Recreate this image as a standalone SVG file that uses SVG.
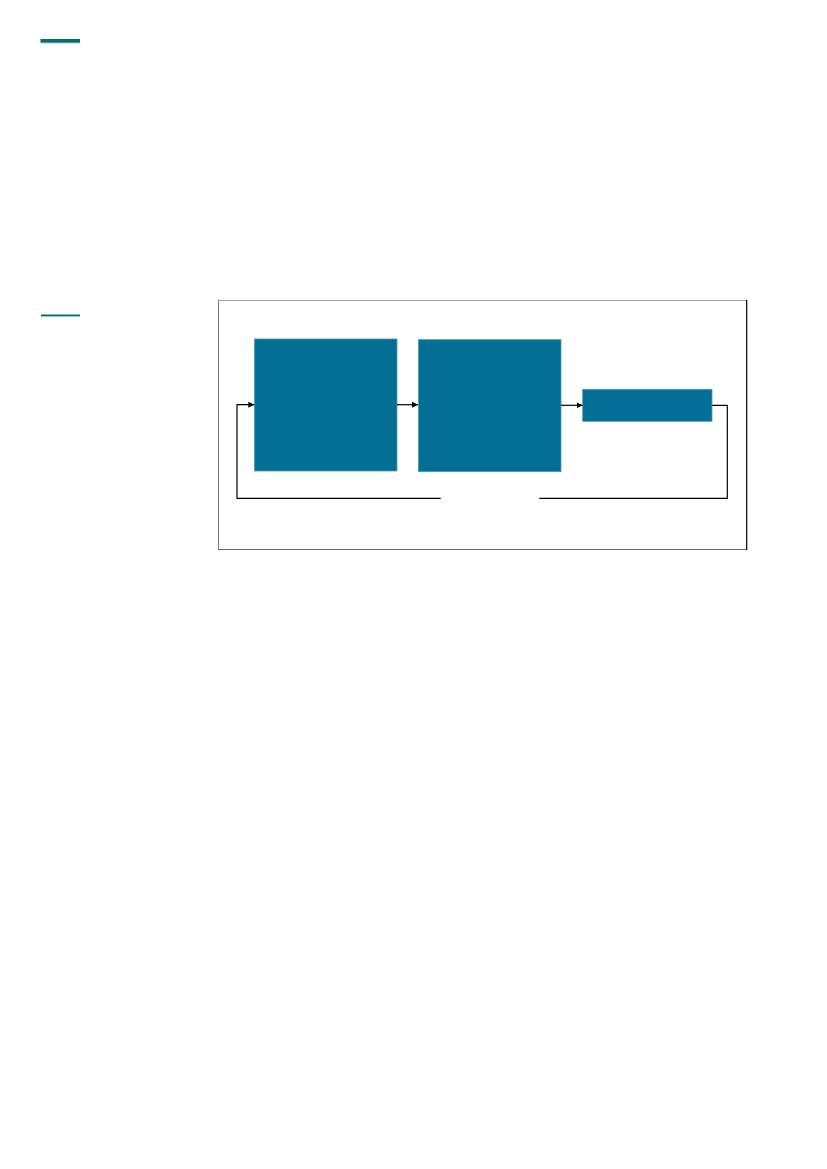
<svg xmlns="http://www.w3.org/2000/svg" width="827" height="1169" viewBox="0 0 827 1169">
<style>
.node{fill:#036F94;stroke:#4E97B3;stroke-width:0.8}
.wire{fill:none;stroke:#000;stroke-width:1.2}
</style>
<defs>
<marker id="arr" viewBox="0 0 10 10" refX="10" refY="5" markerWidth="6" markerHeight="6" markerUnits="userSpaceOnUse" orient="auto">
<path d="M0,0 L10,5 L0,10 z" fill="#000"/>
</marker>
</defs>
<rect width="827" height="1169" fill="#fff"/>
<g id="header-rule">
<rect x="40.5" y="39" width="39.5" height="3" fill="#0A6B73"/>
<rect x="40.5" y="42" width="39.5" height="1.2" fill="#4A979C"/>
</g>
<g id="section-rule">
<rect x="41" y="314.5" width="39" height="1.5" fill="#0A6B73"/>
<rect x="41" y="316" width="39" height="0.8" fill="#7FB5B9"/>
</g>
<g id="frame">
<line x1="218.5" y1="300.5" x2="747" y2="300.5" stroke="#A0A0A0" stroke-width="1.2"/>
<line x1="218.5" y1="300" x2="218.5" y2="549.5" stroke="#777" stroke-width="1"/>
<line x1="218" y1="549.5" x2="747" y2="549.5" stroke="#666" stroke-width="1.2"/>
<line x1="746.7" y1="300" x2="746.7" y2="550" stroke="#000" stroke-width="1.2"/>
</g>
<g id="node1"><rect class="node" x="254.5" y="339" width="142.5" height="132"/></g>
<g id="node2"><rect class="node" x="418.5" y="339.7" width="142.5" height="132"/></g>
<g id="node3"><rect class="node" x="582.7" y="389.3" width="129.3" height="32"/></g>
<g id="connectors">
<line class="wire" x1="397" y1="404.7" x2="418" y2="404.7" marker-end="url(#arr)"/>
<line class="wire" x1="561" y1="405.3" x2="582.5" y2="405.3" marker-end="url(#arr)"/>
<polyline class="wire" points="712,405.3 727.3,405.3 727.3,498.3 539.3,498.3"/>
<polyline class="wire" points="440.7,498.3 237,498.3 237,404.7 254.3,404.7" marker-end="url(#arr)"/>
</g>
</svg>
